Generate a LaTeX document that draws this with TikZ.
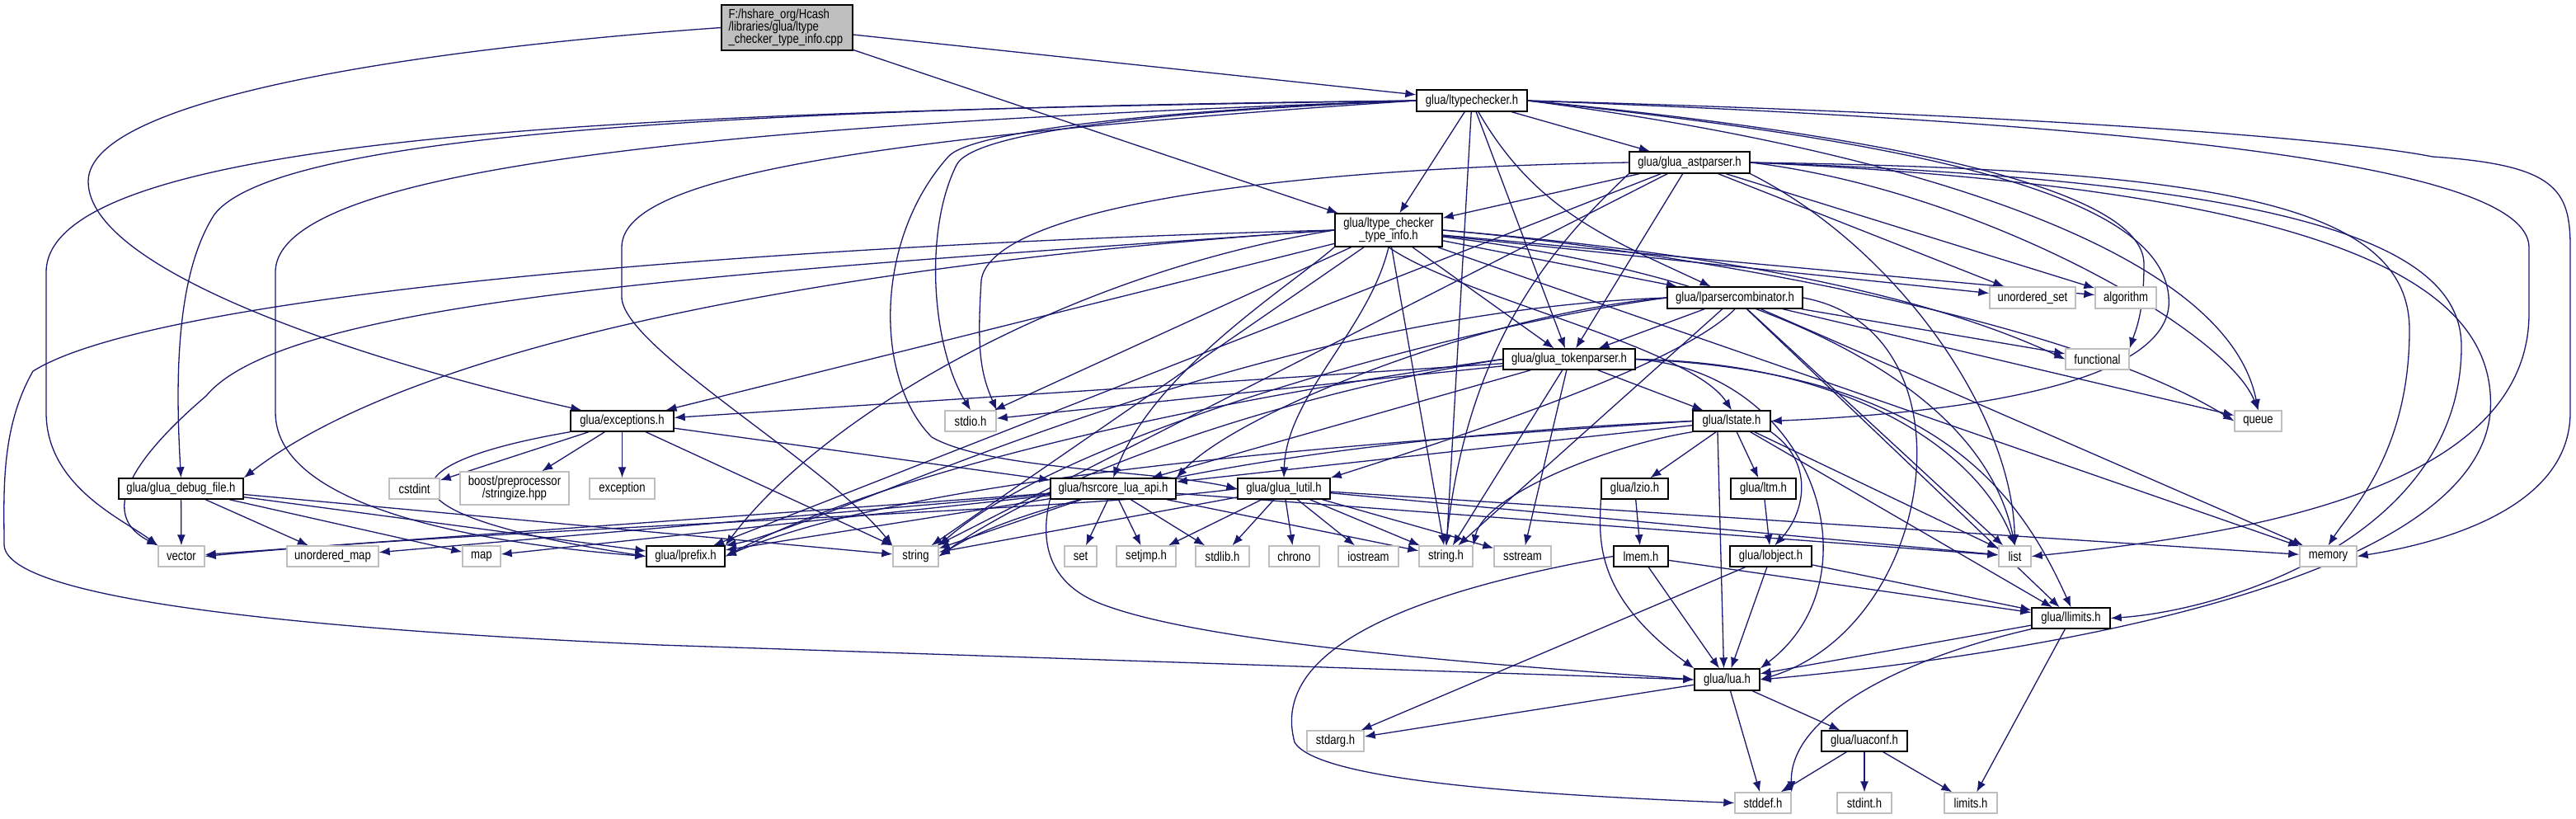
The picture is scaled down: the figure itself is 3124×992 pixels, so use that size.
\documentclass[tikz,border=0pt]{standalone}
\usepackage{fontspec}
\setmainfont{Liberation Sans}[FakeStretch=0.82]
\usetikzlibrary{arrows.meta}
\definecolor{edgeblue}{HTML}{191970}
\definecolor{extgray}{HTML}{BFBFBF}
\pgfdeclarelayer{bg}
\pgfsetlayers{bg,main}
\tikzset{
 base/.style={rectangle, inner sep=0pt, font=\fontsize{8}{7.6}\selectfont, fill=white, minimum height=12.5pt},
 hb/.style={base, draw=black, line width=0.7pt},
 sb/.style={base, draw=extgray, line width=0.7pt},
 ln/.style={draw=edgeblue, line width=0.65pt, -{Latex[length=6.5pt,width=5pt]}},
}
\begin{document}
\begin{tikzpicture}[x=0.5pt,y=-0.5pt]
\useasboundingbox (0,0) rectangle (3124,992);
% nodes
\node[hb, fill=extgray, minimum width=79.5pt, minimum height=27.5pt, align=left, text width=71pt] (root) at (954.5,33.5) {F:/hshare\_org/Hcash\\/libraries/glua/ltype\\\_checker\_type\_info.cpp};
\node[hb, minimum width=67pt, minimum height=13pt] (tc) at (1785,122) {glua/ltypechecker.h};
\node[hb, minimum width=73pt, minimum height=13pt] (ast) at (2049,197) {glua/glua\_astparser.h};
\node[hb, minimum width=65pt, minimum height=20pt, align=center] (ti) at (1684,279) {glua/ltype\_checker\\\_type\_info.h};
\node[hb, minimum width=82pt, minimum height=13pt] (pc) at (2104,361) {glua/lparsercombinator.h};
\node[hb, minimum width=80pt] (tp) at (1903,435.5) {glua/glua\_tokenparser.h};
\node[hb, minimum width=47pt] (ls) at (2100,510.5) {glua/lstate.h};
\node[hb, minimum width=62.5pt] (ex) at (754.5,510.5) {glua/exceptions.h};
\node[sb, minimum width=31pt] (stdio) at (1177,510.5) {stdio.h};
\node[hb, minimum width=75.5pt] (dbg) at (219.5,592.5) {glua/glua\_debug\_file.h};
\node[sb, minimum width=30.5pt] (cstdint) at (502.5,592.5) {cstdint};
\node[sb, minimum width=66pt, minimum height=20pt, align=center] (boost) at (624,592) {boost/preprocessor\\/stringize.hpp};
\node[sb, minimum width=39.5pt] (exception) at (754.5,592.5) {exception};
\node[hb, minimum width=76pt] (hs) at (1350,592.5) {glua/hsrcore\_lua\_api.h};
\node[hb, minimum width=56pt] (lu) at (1557,592.5) {glua/glua\_lutil.h};
\node[hb, minimum width=40.5pt] (lzio) at (1982.5,592.5) {glua/lzio.h};
\node[hb, minimum width=39.5pt] (ltm) at (2138.5,592.5) {glua/ltm.h};
\node[sb, minimum width=52pt, minimum height=13pt] (uset) at (2465,361) {unordered\_set};
\node[sb, minimum width=37pt, minimum height=13pt] (algo) at (2578,361) {algorithm};
\node[sb, minimum width=38.5pt] (func) at (2543.5,435.5) {functional};
\node[sb, minimum width=28.5pt] (queue) at (2738.5,510.5) {queue};
\node[sb, minimum width=28pt] (vector) at (220,674.5) {vector};
\node[sb, minimum width=55.5pt] (umap) at (403.5,674.5) {unordered\_map};
\node[sb, minimum width=23pt] (map) at (584,674.5) {map};
\node[hb, minimum width=47.5pt] (lprefix) at (831.5,674.5) {glua/lprefix.h};
\node[sb, minimum width=27.5pt] (string) at (1110.5,674.5) {string};
\node[sb, minimum width=19.5pt] (set) at (1310.5,674.5) {set};
\node[sb, minimum width=36pt] (setjmp) at (1390,674.5) {setjmp.h};
\node[sb, minimum width=32.5pt] (stdlib) at (1482.5,674.5) {stdlib.h};
\node[sb, minimum width=30.5pt] (chrono) at (1569.5,674.5) {chrono};
\node[sb, minimum width=36.5pt] (iostream) at (1659.5,674.5) {iostream};
\node[sb, minimum width=32.5pt] (strh) at (1753.5,674.5) {string.h};
\node[sb, minimum width=34.5pt] (sstream) at (1846.5,674.5) {sstream};
\node[hb, minimum width=33pt] (lmem) at (1990,674.5) {lmem.h};
\node[hb, minimum width=49.5pt] (lobj) at (2147.5,674.5) {glua/lobject.h};
\node[sb, minimum width=19.5pt] (list) at (2443.5,674.5) {list};
\node[sb, minimum width=34.5pt] (memory) at (2823.5,674.5) {memory};
\node[hb, minimum width=47.5pt] (llim) at (2511.5,749.5) {glua/llimits.h};
\node[hb, minimum width=39.5pt, minimum height=13pt] (lua) at (2094.5,824) {glua/lua.h};
\node[sb, minimum width=34.5pt] (stdarg) at (1619.5,898.5) {stdarg.h};
\node[hb, minimum width=52pt] (luaconf) at (2261,898.5) {glua/luaconf.h};
\node[sb, minimum width=34pt] (stddef) at (2138,973.5) {stddef.h};
\node[sb, minimum width=33pt] (stdint) at (2261,973.5) {stdint.h};
\node[sb, minimum width=32pt] (limits) at (2390,973.5) {limits.h};

\begin{pgfonlayer}{bg}
\fill[white] (0,0) rectangle (3124,992);
% root
\draw[ln] (root) -- (tc);
\draw[ln] (root) -- (ti);
\draw[ln] (root.west) .. controls (500,60) and (107,120) .. (107,220) .. controls (107,330) and (450,440) .. (ex.165);
% ltypechecker
\draw[ln] (tc) -- (ast);
\draw[ln] (tc) -- (ti);
\draw[ln] (tc) to[out=-60,in=155] (pc);
\draw[ln] (tc) -- (tp);
\draw[ln] (tc.east) .. controls (2300,170) and (2620,230) .. (2630,360) .. controls (2640,460) and (2400,500) .. (ls.east);
\draw[ln] (tc.west) .. controls (1400,135) and (1180,160) .. (1160,200) .. controls (1120,280) and (1130,420) .. (stdio.north);
\draw[ln] (tc.west) .. controls (1400,133) and (1175,160) .. (1150,190) .. controls (1060,290) and (1060,460) .. (1130,530) .. controls (1200,570) and (1400,570) .. (lu.west);
\draw[ln] (tc.west) .. controls (800,132) and (330,170) .. (260,260) .. controls (215,330) and (212,450) .. (dbg.north);
\draw[ln] (tc.west) .. controls (900,135) and (56,150) .. (56,330) -- (56,500) .. controls (56,590) and (150,630) .. (vector.north west);
\draw[ln] (tc.west) .. controls (900,150) and (334,200) .. (334,330) -- (334,500) .. controls (334,620) and (600,660) .. (lprefix.west);
\draw[ln] (tc.west) .. controls (1000,170) and (754,220) .. (754,300) -- (754,360) .. controls (754,420) and (1000,560) .. (string.north west);
\draw[ln] (tc) -- (strh);
\draw[ln] (tc.east) .. controls (2300,165) and (2600,230) .. (2600,320) .. controls (2600,380) and (2590,400) .. (func.north east);
\draw[ln] (tc.east) .. controls (2300,180) and (2700,300) .. (queue.north);
\draw[ln] (tc.east) .. controls (2600,150) and (3067,200) .. (3067,300) -- (3067,380) .. controls (3067,600) and (2700,650) .. (list.east);
\draw[ln] (tc.east) .. controls (2500,140) and (2850,170) .. (2950,190) .. controls (3100,200) and (3117,230) .. (3117,300) -- (3117,500) .. controls (3117,620) and (2950,660) .. (memory.east);
% astparser
\draw[ln] (ast) -- (ti);
\draw[ln] (ast) -- (tp);
\draw[ln] (ast.west) .. controls (1500,205) and (1200,260) .. (1190,340) .. controls (1185,420) and (1188,450) .. (stdio.north east);
\draw[ln] (ast) -- (lprefix);
\draw[ln] (ast) -- (string);
\draw[ln] (ast.south west) .. controls (1880,300) and (1780,420) .. (strh.north);
\draw[ln] (ast) -- (uset);
\draw[ln] (ast) -- (algo);
\draw[ln] (ast.east) .. controls (2400,230) and (2700,400) .. (queue.north);
\draw[ln] (ast.south east) .. controls (2300,300) and (2440,500) .. (list.north);
\draw[ln] (ast.east) .. controls (2700,205) and (2922,250) .. (2922,400) .. controls (2922,550) and (2850,620) .. (memory.north);
\draw[ln] (ast.east) .. controls (2800,220) and (2985,300) .. (2985,420) .. controls (2985,650) and (2700,740) .. (llim.east);
\draw[ln] (ast.east) .. controls (2850,230) and (3030,350) .. (3020,500) .. controls (3000,720) and (2400,800) .. (lua.east);
% type_info
\draw[ln] (ti) -- (pc);
\draw[ln] (ti) -- (tp);
\draw[ln] (ti.south) .. controls (1770,360) and (2050,420) .. (ls.north);
\draw[ln] (ti) -- (ex);
\draw[ln] (ti.west) .. controls (1000,320) and (500,420) .. (dbg.north east);
\draw[ln] (ti) -- (stdio);
\draw[ln] (ti.south west) .. controls (1560,350) and (1400,450) .. (hs.north);
\draw[ln] (ti.south) .. controls (1660,400) and (1560,480) .. (lu.north);
\draw[ln] (ti.west) .. controls (900,330) and (350,360) .. (250,480) .. controls (110,600) and (150,640) .. (vector.north west);
\draw[ln] (ti.west) .. controls (1300,330) and (1000,500) .. (lprefix.north east);
\draw[ln] (ti) -- (string);
\draw[ln] (ti) -- (strh);
\draw[ln] (ti) -- (uset);
\draw[ln] (ti) -- (algo);
\draw[ln] (ti.east) .. controls (2000,300) and (2300,340) .. (func.west);
\draw[ln] (ti.east) .. controls (2000,300) and (2500,380) .. (queue.west);
\draw[ln] (ti) .. controls (2100,330) and (2400,450) .. (list.north);
\draw[ln] (ti) -- (memory);
\draw[ln] (ti.west) .. controls (1000,295) and (200,350) .. (40,450) .. controls (0,520) and (5,600) .. (5,660) .. controls (5,720) and (300,760) .. (800,782) -- (lua.west);
% lparsercombinator
\draw[ln] (pc) -- (tp);
\draw[ln] (pc.west) .. controls (1800,380) and (1500,500) .. (hs.north east);
\draw[ln] (pc.south) .. controls (2040,440) and (1800,520) .. (lu.north east);
\draw[ln] (pc.west) .. controls (1500,380) and (1000,640) .. (lprefix.north east);
\draw[ln] (pc.west) .. controls (1800,390) and (1300,520) .. (string.north east);
\draw[ln] (pc) -- (strh);
\draw[ln] (pc) -- (list);
\draw[ln] (pc) -- (memory);
\draw[ln] (pc) -- (queue);
\draw[ln] (pc) -- (func);
\draw[ln] (pc) -- (llim);
\draw[ln] (pc.east) .. controls (2400,400) and (2350,760) .. (lua.east);
% tokenparser
\draw[ln] (tp) -- (ex);
\draw[ln] (tp) -- (stdio);
\draw[ln] (tp) -- (ls);
\draw[ln] (tp) -- (hs);
\draw[ln] (tp.west) .. controls (1500,480) and (1100,560) .. (lprefix.east);
\draw[ln] (tp.west) .. controls (1600,470) and (1300,560) .. (string.east);
\draw[ln] (tp) -- (strh);
\draw[ln] (tp) -- (sstream);
\draw[ln] (tp.east) .. controls (2250,440) and (2400,550) .. (list.north);
\draw[ln] (tp.east) .. controls (2350,450) and (2450,600) .. (llim.north);
\draw[ln] (tp.east) .. controls (2200,450) and (2280,700) .. (lua.north east);
% exceptions
\draw[ln] (ex) -- (cstdint);
\draw[ln] (ex) -- (boost);
\draw[ln] (ex) -- (exception);
\draw[ln] (ex) -- (hs);
\draw[ln] (ex) -- (string);
\draw[ln] (ex.south west) .. controls (480,560) and (430,620) .. (lprefix.west);
% debug_file
\draw[ln] (dbg) -- (vector);
\draw[ln] (dbg) -- (umap);
\draw[ln] (dbg) -- (map);
\draw[ln] (dbg) -- (lprefix);
\draw[ln] (dbg) -- (string);
% hsrcore
\draw[ln] (hs) -- (vector);
\draw[ln] (hs) -- (umap);
\draw[ln] (hs) -- (map);
\draw[ln] (hs) -- (lprefix);
\draw[ln] (hs) -- (string);
\draw[ln] (hs) -- (set);
\draw[ln] (hs) -- (setjmp);
\draw[ln] (hs) -- (stdlib);
\draw[ln] (hs) -- (strh);
\draw[ln] (hs) -- (list);
\draw[ln] (hs.south west) .. controls (1265,640) and (1260,700) .. (1330,730) .. controls (1450,780) and (1800,805) .. (lua.west);
% lutil
\draw[ln] (lu.west) .. controls (1300,620) and (600,640) .. (vector.east);
\draw[ln] (lu) -- (string);
\draw[ln] (lu) -- (strh);
\draw[ln] (lu) -- (setjmp);
\draw[ln] (lu) -- (stdlib);
\draw[ln] (lu) -- (chrono);
\draw[ln] (lu) -- (iostream);
\draw[ln] (lu) -- (sstream);
\draw[ln] (lu) -- (list);
\draw[ln] (lu) -- (memory);
% lstate
\draw[ln] (ls) -- (hs);
\draw[ln] (ls.west) .. controls (1600,540) and (1100,580) .. (lprefix.east);
\draw[ln] (ls.west) .. controls (1600,530) and (1250,600) .. (string.east);
\draw[ln] (ls.south west) .. controls (1950,540) and (1800,600) .. (strh.north east);
\draw[ln] (ls) -- (lzio);
\draw[ln] (ls) -- (ltm);
\draw[ln] ([xshift=-8.5pt]ls.south) -- ([xshift=-2pt]lua.north);
\draw[ln] (ls.south east) .. controls (2200,560) and (2190,620) .. (lobj.70);
\draw[ln] (ls) -- (list);
\draw[ln] (ls) -- (llim);
% lower
\draw[ln] (lzio) -- (lmem);
\draw[ln] (lzio.south west) .. controls (1940,650) and (1930,720) .. (lua.north west);
\draw[ln] (ltm) -- (lobj);
\draw[ln] (lmem) -- (llim);
\draw[ln] (lmem) -- (lua);
\draw[ln] (lmem.west) .. controls (1700,720) and (1540,790) .. (1570,900) .. controls (1600,950) and (1900,965) .. (stddef.west);
\draw[ln] (lobj) -- (llim);
\draw[ln] (lobj) -- (lua);
\draw[ln] (lobj) -- (stdarg);
\draw[ln] (llim) -- (lua);
\draw[ln] (llim.south west) .. controls (2300,800) and (2170,870) .. (stddef.north east);
\draw[ln] (llim) -- (limits);
\draw[ln] (lua) -- (stdarg);
\draw[ln] (lua) -- (stddef);
\draw[ln] (lua) -- (luaconf);
\draw[ln] (luaconf) -- (stddef);
\draw[ln] (luaconf) -- (stdint);
\draw[ln] (luaconf) -- (limits);
\end{pgfonlayer}
\end{tikzpicture}
\end{document}
